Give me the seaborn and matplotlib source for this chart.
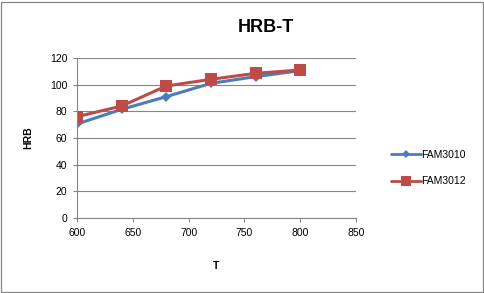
import matplotlib
matplotlib.use("Agg")
import matplotlib.pyplot as plt
import seaborn as sns
import pandas as pd
from matplotlib.patches import Rectangle
from matplotlib.lines import Line2D

T = [600, 640, 680, 720, 760, 800]
fam3010 = [70.5, 81.5, 91, 101, 106, 110.5]
fam3012 = [76, 84, 99, 104, 108.5, 111]
series_names = ["FAM3010", "FAM3012"]

df = pd.DataFrame({"T": T * 2,
                   "HRB": fam3010 + fam3012,
                   "series": [series_names[0]] * len(T) + [series_names[1]] * len(T)})

sns.set_style("white")
plt.rcParams['font.family'] = ['Liberation Sans', 'DejaVu Sans']
plt.rcParams['text.color'] = 'black'
plt.rcParams['xtick.color'] = 'black'
plt.rcParams['ytick.color'] = 'black'
plt.rcParams['axes.labelcolor'] = 'black'

fig = plt.figure(figsize=(4.85, 2.93), dpi=100)
ax = fig.add_axes([77/485, 1-218/293, (356-77)/485, (218-58)/293])

palette = {"FAM3010": "#4A7EBB", "FAM3012": "#BE4B48"}
markers = {"FAM3010": "D", "FAM3012": "s"}
sizes = {"FAM3010": 5.5, "FAM3012": 8.5}
for name in series_names:
    sub = df[df.series == name]
    sns.lineplot(data=sub, x="T", y="HRB", ax=ax, color=palette[name], lw=2.2,
                 marker=markers[name], markersize=sizes[name], markeredgewidth=0,
                 legend=False)

ax.set_xlim(600, 850)
ax.set_ylim(0, 120)
ax.set_xticks([600, 650, 700, 750, 800, 850])
ax.set_yticks(range(0, 121, 20))
ax.yaxis.grid(True, color="#868686", lw=0.8)
ax.xaxis.grid(False)
for s in ["top", "right"]:
    ax.spines[s].set_visible(False)
for s in ["left", "bottom"]:
    ax.spines[s].set_color("#868686")
    ax.spines[s].set_linewidth(0.8)
ax.tick_params(axis="both", labelsize=7.5, length=3, color="#868686", direction="out",
               left=True, bottom=True, pad=4, labelcolor="black")
ax.set_xlabel("T", fontsize=7.5, fontweight="bold", labelpad=17)
ax.set_ylabel("HRB", fontsize=7.5, fontweight="bold", labelpad=12)
fig.text(266/485, 1-28/293, "HRB-T", ha="center", va="center", fontsize=13,
         fontweight="bold", color="black")

handles = [Line2D([], [], color=palette[n], lw=2, marker=markers[n],
                  markersize=sizes[n] * 0.8, markeredgewidth=0) for n in series_names]
leg = fig.legend(handles, series_names, loc="center left", bbox_to_anchor=(382/485, 1-168/293),
                 frameon=False, fontsize=7.5, handlelength=2.8, labelspacing=1.6,
                 handletextpad=0.1)

fig.patches.append(Rectangle((0.003, 0.004), 0.992, 0.99, transform=fig.transFigure,
                             fill=False, edgecolor="#868686", lw=0.9))
fig.savefig("out.png", dpi=100)
